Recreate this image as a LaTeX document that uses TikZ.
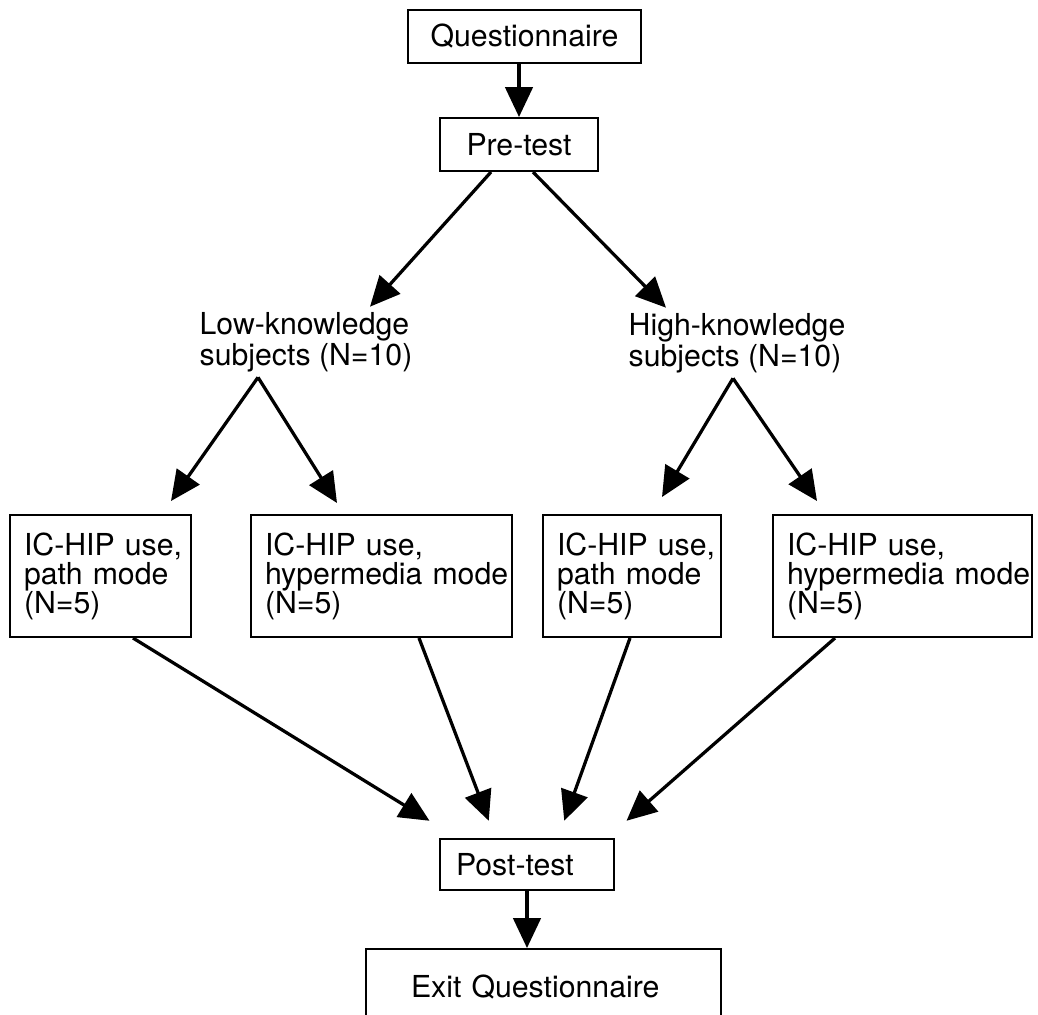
\documentclass[tikz,border=0pt]{standalone}
\usepackage{fontspec}
\setmainfont{TeX Gyre Heros}
\usetikzlibrary{arrows.meta}

\begin{document}
\begin{tikzpicture}[x=0.4pt, y=-0.4pt,
    caja/.style={draw, rectangle, line width=0.8pt, inner sep=0pt,
      font=\fontsize{12.1}{14.5}\selectfont},
    cajatexto/.style={caja, align=left, inner xsep=5.6pt,
      minimum height=48.8pt, font=\fontsize{12.1}{11.6}\selectfont,
      execute at begin node={\hyphenpenalty=10000 \exhyphenpenalty=10000}},
    grupo/.style={align=left, inner sep=2pt,
      font=\fontsize{12.1}{12.4}\selectfont},
    flecha/.style={-{Triangle[length=12pt, width=11pt]}, line width=1.3pt}]
    \useasboundingbox (0,0) rectangle (1038,1014);

    % Cuestionario y pre-test
    \node (quest) [caja, minimum width=93.2pt, minimum height=21.2pt] at (524.5,36.5) {Questionnaire};
    \node (pre) [caja, minimum width=63.2pt, minimum height=21.2pt] at (519,144.5) {Pre-test};

    % Grupos de sujetos
    \node (low) [grupo] at (306,342) {Low-knowledge\\subjects (N=10)};
    \node (high) [grupo] at (737,343) {High-knowledge\\subjects (N=10)};

    % Condiciones de uso del IC-HIP
    \node (lowpath) [cajatexto, text width=61.2pt] at (100.5,576) {IC-HIP~use,\\path~mode\\(N=5)};
    \node (lowhyper) [cajatexto, text width=93.2pt] at (381.5,576) {IC-HIP~use,\\hypermedia~mode\\(N=5)};
    \node (highpath) [cajatexto, text width=60pt] at (632,576) {IC-HIP~use,\\path~mode\\(N=5)};
    \node (highhyper) [cajatexto, text width=92.4pt] at (902.5,576) {IC-HIP~use,\\hypermedia~mode\\(N=5)};

    % Post-test y cuestionario final
    \node (post) [caja, align=left, text width=56.8pt, inner xsep=6.4pt, minimum height=20.4pt] at (527,864.5) {Post-test};
    \node (exit) [caja, align=left, text width=106pt, inner xsep=18pt, minimum height=30.4pt] at (543.5,987) {Exit Questionnaire};

    % Flechas
    \draw[flecha] (pre.north |- quest.south) -- (pre.north);
    \draw[flecha] ([xshift=-11.2pt]pre.south) -- ([xshift=25.6pt]low.north);
    \draw[flecha] ([xshift=5.6pt]pre.south) -- ([xshift=-28.4pt]high.north);
    \draw[flecha] ([xshift=-19.2pt]low.south) -- ([xshift=28.2pt, yshift=5.2pt]lowpath.north);
    \draw[flecha] ([xshift=-19.2pt]low.south) -- ([xshift=-17.8pt, yshift=4.4pt]lowhyper.north);
    \draw[flecha] ([xshift=-1.6pt]high.south) -- ([xshift=12pt, yshift=6.8pt]highpath.north);
    \draw[flecha] ([xshift=-1.6pt]high.south) -- ([xshift=-34.2pt, yshift=5.2pt]highhyper.north);
    \draw[flecha] ([xshift=13pt]lowpath.south) -- ([xshift=-39pt, yshift=6.9pt]post.north);
    \draw[flecha] ([xshift=15pt]lowhyper.south) -- ([xshift=-15.3pt, yshift=6.9pt]post.north);
    \draw[flecha] ([xshift=-0.8pt]highpath.south) -- ([xshift=14.9pt, yshift=6.9pt]post.north);
    \draw[flecha] ([xshift=-27pt]highhyper.south) -- ([xshift=39.8pt, yshift=6.9pt]post.north);
    \draw[flecha] (post.south) -- (post.south |- exit.north);
\end{tikzpicture}
\end{document}
